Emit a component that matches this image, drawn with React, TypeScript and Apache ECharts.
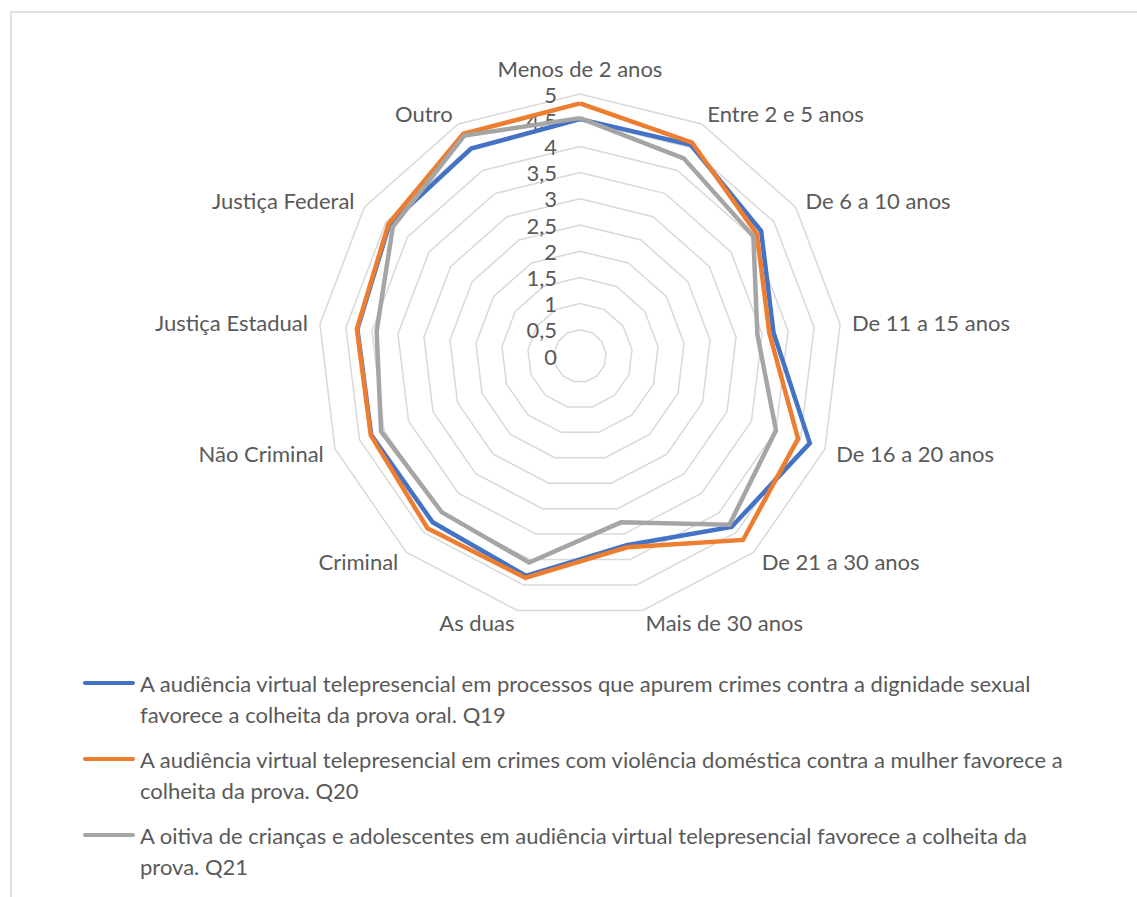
import React, { useEffect, useRef } from "react";
import * as echarts from "echarts";

// ---- data (clockwise order, as in the reference) ----
const categories = [
  "Menos de 2 anos",
  "Entre 2 e 5 anos",
  "De 6 a 10 anos",
  "De 11 a 15 anos",
  "De 16 a 20 anos",
  "De 21 a 30 anos",
  "Mais de 30 anos",
  "As duas",
  "Criminal",
  "Não Criminal",
  "Justiça Estadual",
  "Justiça Federal",
  "Outro",
];

const q19 = [4.52, 4.55, 4.2, 3.72, 4.69, 4.36, 3.72, 4.32, 4.24, 4.26, 4.28, 4.42, 4.47];
const q20 = [4.82, 4.6, 4.1, 3.64, 4.45, 4.69, 3.76, 4.36, 4.39, 4.27, 4.29, 4.44, 4.79];
const q21 = [4.54, 4.26, 4.02, 3.41, 4.0, 4.3, 3.27, 4.06, 3.98, 4.06, 3.91, 4.34, 4.75];

const seriesLegendLines = [
  [
    "A audiência virtual telepresencial em processos que apurem crimes contra a dignidade sexual",
    "favorece a colheita da prova oral. Q19",
  ],
  [
    "A audiência virtual telepresencial em crimes com violência doméstica contra a mulher favorece a",
    "colheita da prova. Q20",
  ],
  [
    "A oitiva de crianças e adolescentes em audiência virtual telepresencial favorece a colheita da",
    "prova. Q21",
  ],
];
const seriesNames = seriesLegendLines.map((l) => l.join(" "));
const seriesValues = [q19, q20, q21];
const seriesColors = ["#4472C4", "#ED7D31", "#A5A5A5"];

const tickLabels = ["0", "0,5", "1", "1,5", "2", "2,5", "3", "3,5", "4", "4,5", "5"];
const axisMax = 5;
const axisStep = 0.5;

const FONT = "Lato, 'Open Sans', sans-serif";
const TEXT = "#595959";
const FS = 22;

// legend marker: a rounded bar at the top of a 52x35 box (so it sits on the first text line)
const LEGEND_ICON =
  "path://M2,0 L50,0 A2,2 0 0 1 50,4 L2,4 A2,2 0 0 1 2,0 Z M52,35 L52,35";

export default function App() {
  const ref = useRef<HTMLDivElement>(null);

  useEffect(() => {
    const chart = echarts.init(ref.current!, null, { renderer: "svg" });
    // ECharts places radar indicators counter-clockwise; the reference goes clockwise.
    const n = categories.length;
    const order = categories.map((_, i) => (i === 0 ? 0 : n - i));
    const indicator = order.map((idx, k) => ({
      name: categories[idx],
      min: 0,
      max: axisMax,
      nameGap: k === 0 ? 15 : 12,
      axisLabel: { show: k === 0 },
    }));

    chart.setOption({
      animation: false,
      backgroundColor: "#ffffff",
      graphic: [
        {
          type: "rect",
          silent: true,
          z: -10,
          shape: { x: 11, y: 12, width: 1300, height: 1000 },
          style: { fill: "none", stroke: "#d9d9d9", lineWidth: 1.5 },
        },
      ],
      radar: {
        center: [580, 356],
        radius: 262,
        startAngle: 90,
        splitNumber: 10,
        shape: "polygon",
        indicator,
        axisName: { color: TEXT, fontSize: FS, fontFamily: FONT },
        axisNameGap: 12,
        axisLine: { show: false },
        axisTick: { show: false },
        axisLabel: {
          show: false,
          color: TEXT,
          fontSize: FS,
          fontFamily: FONT,
          margin: 23,
          formatter: (v: number) => tickLabels[Math.round(v / axisStep)] ?? "",
        },
        splitLine: { lineStyle: { color: "#d9d9d9", width: 1.5 } },
        splitArea: { show: false },
      },
      legend: {
        data: seriesNames.map((name, i) => ({
          name,
          itemStyle: { color: seriesColors[i], borderWidth: 0 },
        })),
        orient: "vertical",
        left: 83,
        top: 667.5,
        padding: 0,
        itemGap: 14,
        icon: LEGEND_ICON,
        itemWidth: 52,
        itemHeight: 35,
        selectedMode: false,
        formatter: (name: string) => {
          const i = seriesNames.indexOf(name);
          return i >= 0 ? seriesLegendLines[i].join("\n") : name;
        },
        textStyle: {
          color: TEXT,
          fontSize: FS,
          fontFamily: FONT,
          lineHeight: 31,
        },
      },
      series: [
        {
          type: "radar",
          symbol: "none",
          silent: true,
          data: seriesValues.map((vals, i) => ({
            name: seriesNames[i],
            value: order.map((idx) => vals[idx]),
            lineStyle: { color: seriesColors[i], width: 4.5, join: "miter" },
            itemStyle: { color: seriesColors[i] },
          })),
        },
      ],
    });
    return () => chart.dispose();
  }, []);

  return (
    <div
      ref={ref}
      style={{ position: "fixed", left: 0, top: 0, width: 1137, height: 897, background: "#fff" }}
    />
  );
}
